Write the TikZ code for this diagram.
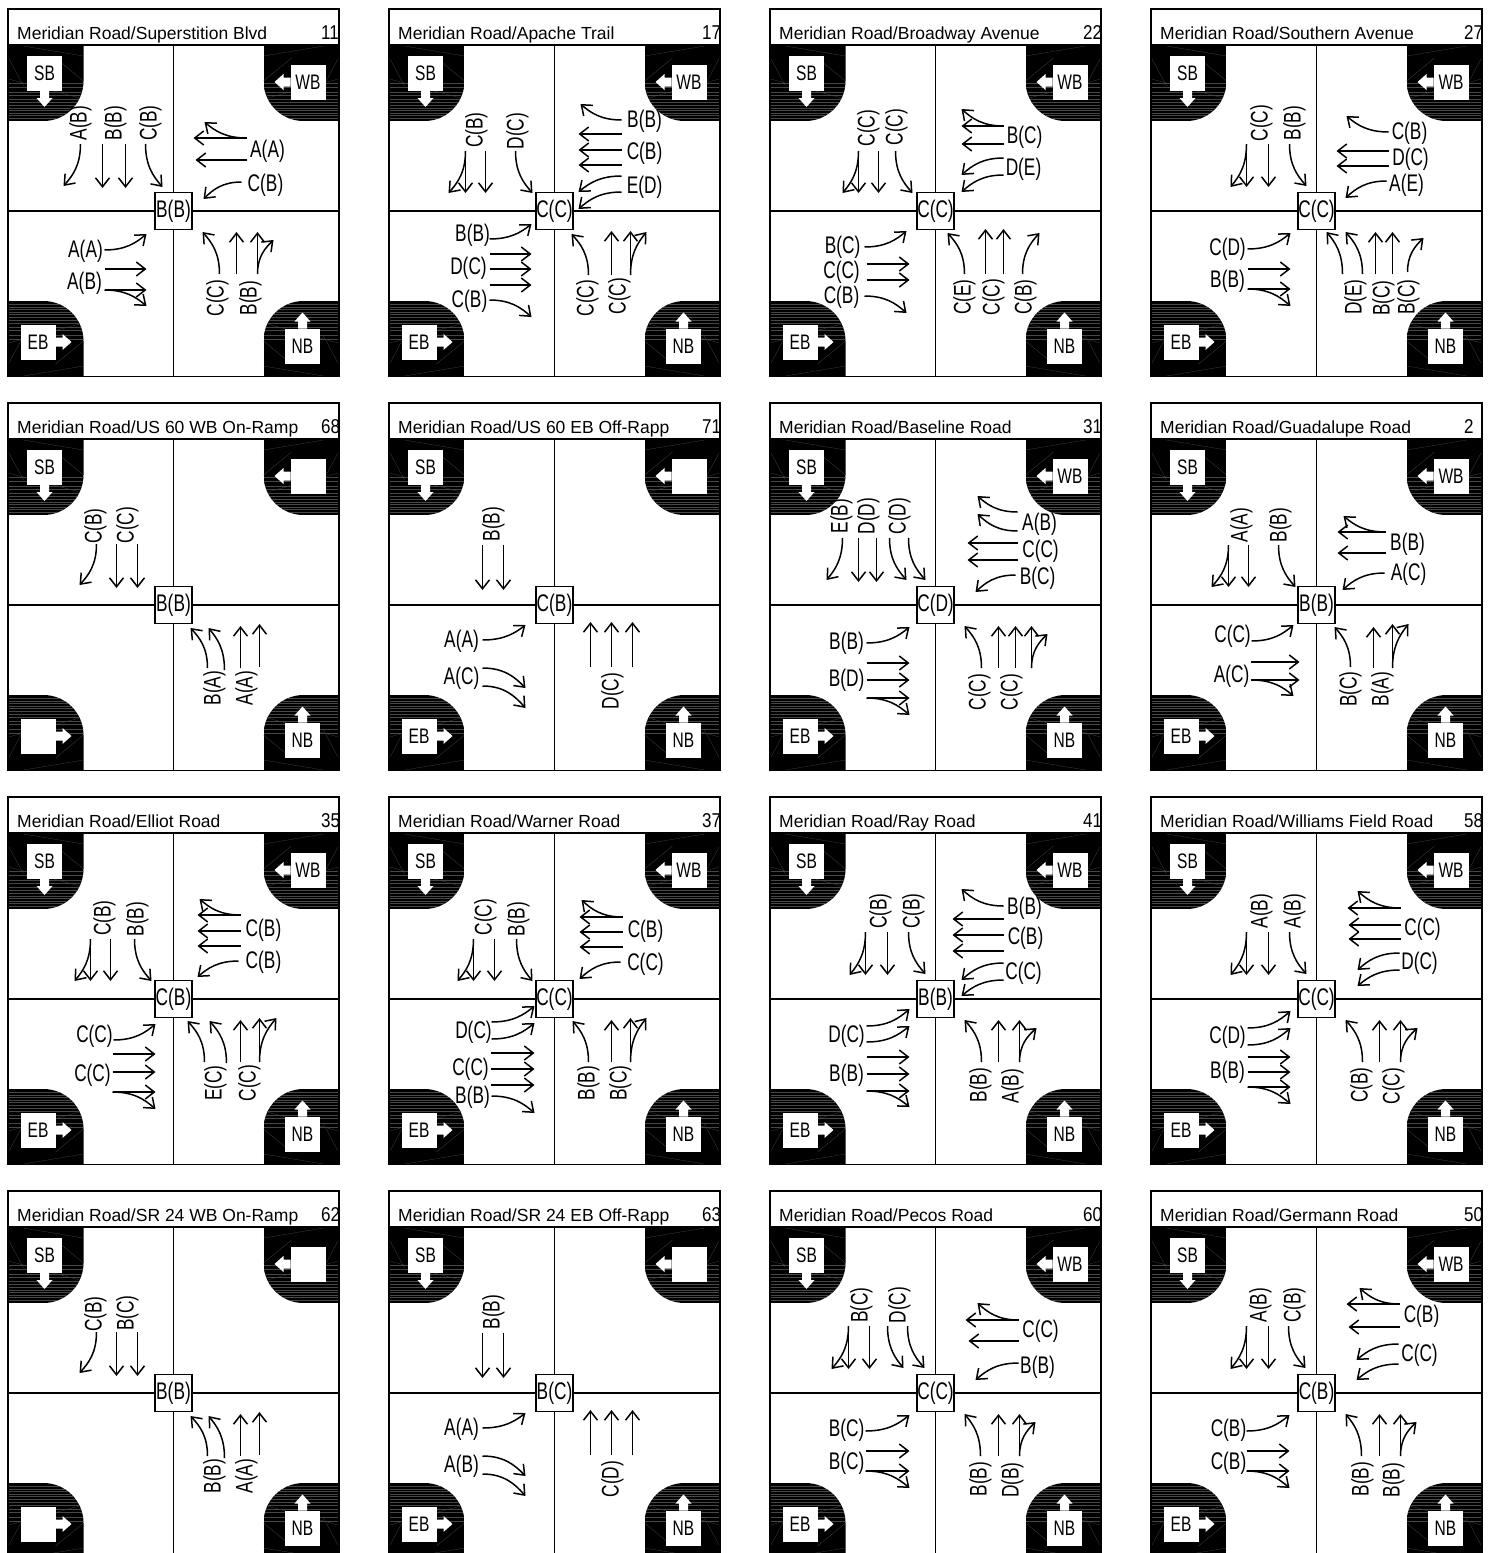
\documentclass[tikz,border=0pt]{standalone}
\usepackage{graphicx}
\usepackage{fontspec}
\setmainfont{Liberation Sans}
\usetikzlibrary{arrows.meta}

\tikzset{
  >={Straight Barb[length=9pt,width=14pt]},
  mv/.style={->,line width=1.5pt},
  frameline/.style={line width=1.4pt},
  roadline/.style={line width=1.2pt},
  lbl/.style={inner sep=0pt,font=\fontsize{24}{24}\selectfont},
  ttl/.style={inner sep=0pt,anchor=base west,font=\fontsize{17.5}{18}\selectfont},
  numlbl/.style={inner sep=0pt,anchor=base west,font=\fontsize{20}{20}\selectfont},
  dirlbl/.style={inner sep=0pt,font=\fontsize{21}{21}\selectfont},
  sig/.style={draw,fill=white,line width=1.4pt,minimum size=37pt,inner sep=0pt},
  grain/.style={black!72!white,line width=.25pt},
}

\newcommand{\narrow}[1]{\scalebox{.72}[1]{#1}}
% movements, in pixels from the centre of the crossing
\newcommand{\mvgo}[4]{\draw[mv] (#1,#2) -- (#3,#4);}
\newcommand{\mvv}[4]{\draw[mv] (#1,#2) .. controls (#1,{#2+.5*((#4)-(#2))}) and ({#1+.45*((#3)-(#1))},{#2+.75*((#4)-(#2))}) .. (#3,#4);}
\newcommand{\mvh}[4]{\draw[mv] (#1,#2) .. controls ({#1+.5*((#3)-(#1))},#2) and ({#1+.75*((#3)-(#1))},{#2+.45*((#4)-(#2))}) .. (#3,#4);}
\newcommand{\labh}[3]{\node[lbl] (mvlab) at (#1,{#2+1.5}) {\narrow{#3}};}
\newcommand{\labv}[3]{\node[lbl,rotate=90] (mvlab) at ({#1+1},#2) {\narrow{#3}};}
% black corner with its grain, mirrored for each side
\newcommand{\corner}[2]{
  \begin{scope}[xscale=#1,yscale=#2]
    \begin{scope}
      \clip (-165.5,-166) -- (-90,-166) [rounded corners=40pt] -- (-90,-90) [sharp corners] -- (-165.5,-90) -- cycle;
      \fill (-166,-166) rectangle (-90,-90);
      \foreach \yy in {-128,-124,-119,-116,-112,-109,-106,-103,-101,-98,-96,-93} {
        \draw[grain] (-166,\yy) -- (-90,\yy);
      }
      \draw[grain] (-165,-153) -- (-150,-125);
      \draw[grain] (-118,-153) -- (-90,-130);
      \draw[grain] (-165,-132) -- (-90,-112);
      \draw[grain] (-150,-165) -- (-90,-155);
    \end{scope}
  \end{scope}
}
\newcommand{\dirbox}[4]{
  \begin{scope}[shift={(#3,#4)},rotate=#1]
    \fill[white] (-146.5,-155) rectangle (-111.5,-120);
    \fill[white] (-133.5,-120) -- (-133.5,-113) -- (-137,-113) -- (-129,-104) -- (-121,-113) -- (-124.5,-113) -- (-124.5,-120) -- cycle;
    \node[dirlbl] (dir#1) at (-129,-137.5) {\scalebox{.74}[1]{#2}};
  \end{scope}
}
% col, row, title, number, signal label, WB text, EB text, movements
\newcommand{\panel}[8]{
  \begin{scope}[shift={({173.5+381*#1},{211+394*#2})}]
    \corner{1}{1}
    \corner{-1}{1}
    \corner{1}{-1}
    \corner{-1}{-1}
    \draw[roadline] (0,-166) -- (0,165.5);
    \draw[roadline] (-165.5,0) -- (165.5,0);
    \draw[frameline] (-165.5,-202) rectangle (165.5,165.5);
    \draw[frameline] (-165.5,-166) -- (165.5,-166);
    \dirbox{0}{SB}{0}{0}
    \dirbox{270}{#6}{-3}{0}
    \dirbox{90}{#7}{2}{2}
    \dirbox{180}{NB}{0}{-2.5}
    \node[ttl] (title) at (-156.5,-172) {#3};
    \node[numlbl] (number) at (147.5,-172) {\scalebox{.85}[1]{#4}};
    \node[sig] (centre) at (0,0) {\narrow{\fontsize{24}{24}\selectfont #5}};
    #8
  \end{scope}
}

\begin{document}
\begin{tikzpicture}[x=1pt,y=-1pt]
  \path[use as bounding box,clip] (0,0) rectangle (1496,1553);
  \fill[white] (0,0) rectangle (1496,1553);

  \panel{0}{0}{Meridian Road/Superstition Blvd}{11}{B(B)}{WB}{EB}{
    \mvv{-93}{-67}{-110}{-25} \mvgo{-71}{-67}{-71}{-23} \mvgo{-48}{-67}{-48}{-23} \mvv{-28}{-67}{-11}{-24}
    \mvgo{73}{-73}{20}{-73} \mvh{73}{-73}{31}{-89} \mvgo{73}{-51}{22}{-51} \mvh{68}{-29}{30}{-12}
    \mvh{-69}{39}{-27}{23} \mvgo{-69}{58}{-27}{58} \mvgo{-69}{79}{-27}{79} \mvh{-69}{79}{-27}{95}
    \mvv{46}{63}{29}{21} \mvgo{63}{63}{63}{21} \mvgo{84}{63}{84}{21} \mvv{84}{63}{100}{29}
    \labv{-94}{-88}{A(B)} \labv{-59}{-88}{B(B)} \labv{-24}{-88}{C(B)}
    \labh{94}{-61}{A(A)} \labh{92}{-27}{C(B)}
    \labh{-88}{39}{A(A)} \labh{-89}{71}{A(B)}
    \labv{43}{87}{C(C)} \labv{76}{87}{B(B)}
  }
  \panel{1}{0}{Meridian Road/Apache Trail}{17}{C(C)}{WB}{EB}{
    \mvgo{-89}{-60}{-89}{-18} \mvv{-89}{-60}{-106}{-18} \mvgo{-69}{-60}{-69}{-18} \mvv{-39}{-60}{-22}{-18}
    \mvh{67}{-91}{26}{-107} \mvgo{67}{-77}{24}{-77} \mvgo{67}{-61}{24}{-61} \mvgo{67}{-46}{24}{-46}
    \mvh{67}{-35}{24}{-19} \mvh{67}{-19}{24}{-2}
    \mvh{-65}{28}{-23}{13} \mvgo{-65}{43}{-23}{43} \mvgo{-65}{58}{-23}{58} \mvgo{-65}{74}{-23}{74} \mvh{-65}{89}{-23}{106}
    \mvv{34}{64}{17}{23} \mvgo{57}{64}{57}{20} \mvgo{76}{64}{76}{20} \mvv{76}{64}{92}{21}
    \labv{-79}{-81}{C(B)} \labv{-38}{-80}{D(C)}
    \labh{90}{-91}{B(B)} \labh{90}{-59}{C(B)} \labh{90}{-25}{E(D)}
    \labh{-82}{23}{B(B)} \labh{-86}{56}{D(C)} \labh{-85}{89}{C(B)}
    \labv{32}{87}{C(C)} \labv{64}{85}{C(C)}
  }
  \panel{2}{0}{Meridian Road/Broadway Avenue}{22}{C(C)}{WB}{EB}{
    \mvgo{-77}{-60}{-77}{-18} \mvv{-77}{-60}{-93}{-18} \mvgo{-57}{-60}{-57}{-18} \mvv{-40}{-60}{-23}{-18}
    \mvgo{68}{-85}{26}{-85} \mvh{68}{-85}{26}{-102} \mvgo{68}{-67}{26}{-67} \mvh{68}{-53}{26}{-36} \mvh{68}{-36}{26}{-19}
    \mvh{-71}{36}{-29}{20} \mvgo{-69}{53}{-26}{53} \mvgo{-69}{69}{-26}{69} \mvh{-71}{85}{-29}{102}
    \mvv{29}{63}{12}{22} \mvgo{50}{63}{50}{18} \mvgo{68}{63}{68}{18} \mvv{87}{63}{104}{22}
    \labv{-68}{-83}{C(C)} \labv{-40}{-84}{C(C)}
    \labh{89}{-75}{B(C)} \labh{88}{-43}{D(E)}
    \labh{-93}{35}{B(C)} \labh{-94}{60}{C(C)} \labh{-94}{85}{C(B)}
    \labv{28}{86}{C(E)} \labv{57}{86}{C(C)} \labv{89}{86}{C(B)}
  }
  \panel{3}{0}{Meridian Road/Southern Avenue}{27}{C(C)}{WB}{EB}{
    \mvgo{-70}{-67}{-70}{-24} \mvv{-70}{-67}{-86}{-24} \mvgo{-48}{-67}{-48}{-24} \mvv{-27}{-67}{-10}{-25}
    \mvh{72}{-79}{30}{-95} \mvgo{72}{-60}{20}{-60} \mvgo{72}{-45}{20}{-45} \mvh{70}{-30}{29}{-13}
    \mvh{-69}{38}{-26}{22} \mvgo{-69}{58}{-26}{58} \mvgo{-69}{78}{-26}{78} \mvh{-69}{78}{-26}{95}
    \mvv{26}{63}{10}{21} \mvv{46}{63}{29}{21} \mvgo{59}{63}{59}{21} \mvgo{76}{63}{76}{21} \mvv{91}{61}{107}{27}
    \labv{-56}{-88}{C(C)} \labv{-23}{-88}{B(B)}
    \labh{93}{-79}{C(B)} \labh{94}{-53}{D(C)} \labh{90}{-27}{A(E)}
    \labh{-89}{37}{C(D)} \labh{-89}{69}{B(B)}
    \labv{38}{86}{D(E)} \labv{66}{87}{B(C)} \labv{91}{86}{B(C)}
  }

  \panel{0}{1}{Meridian Road/US 60 WB On-Ramp}{68}{B(B)}{}{}{
    \mvv{-77}{-61}{-94}{-20} \mvgo{-57}{-61}{-57}{-17} \mvgo{-36}{-61}{-36}{-17}
    \mvv{34}{63}{17}{23} \mvv{51}{65}{35}{23} \mvgo{67}{63}{67}{21} \mvgo{86}{62}{86}{19}
    \labv{-79}{-79}{C(B)} \labv{-47}{-80}{C(C)}
    \labv{40}{83}{B(A)} \labv{72}{83}{A(A)}
  }
  \panel{1}{1}{Meridian Road/US 60 EB Off-Rapp}{71}{C(B)}{}{EB}{
    \mvgo{-72}{-60}{-72}{-15} \mvgo{-51}{-60}{-51}{-15}
    \mvh{-72}{35}{-29}{20} \mvh{-72}{63}{-29}{83} \mvh{-72}{81}{-29}{103}
    \mvgo{36}{62}{36}{17} \mvgo{57}{62}{57}{17} \mvgo{78}{62}{78}{17}
    \labv{-62}{-81}{B(B)}
    \labh{-93}{35}{A(A)} \labh{-93}{72}{A(C)}
    \labv{57}{86}{D(C)}
  }
  \panel{2}{1}{Meridian Road/Baseline Road}{31}{C(D)}{WB}{EB}{
    \mvv{-93}{-67}{-109}{-25} \mvgo{-77}{-67}{-77}{-23} \mvgo{-59}{-67}{-59}{-23} \mvv{-46}{-67}{-29}{-25} \mvv{-27}{-67}{-10}{-25}
    \mvh{82}{-93}{42}{-109} \mvh{82}{-74}{42}{-91} \mvgo{82}{-62}{32}{-62} \mvgo{82}{-45}{32}{-45} \mvh{80}{-30}{40}{-13}
    \mvh{-69}{38}{-26}{22} \mvgo{-69}{58}{-26}{58} \mvgo{-69}{75}{-26}{75} \mvgo{-69}{93}{-26}{93} \mvh{-69}{93}{-26}{110}
    \mvv{46}{63}{29}{21} \mvgo{63}{63}{63}{21} \mvgo{80}{63}{80}{21} \mvgo{96}{63}{96}{21} \mvv{96}{63}{112}{29}
    \labv{-95}{-89}{E(B)} \labv{-68}{-89}{D(D)} \labv{-37}{-89}{C(D)}
    \labh{104}{-82}{A(B)} \labh{105}{-55}{C(C)} \labh{102}{-28}{B(C)}
    \labh{-89}{37}{B(B)} \labh{-89}{74}{B(D)}
    \labv{43}{87}{C(C)} \labv{75}{87}{C(C)}
  }
  \panel{3}{1}{Meridian Road/Guadalupe Road}{2}{B(B)}{WB}{EB}{
    \mvgo{-88}{-60}{-88}{-18} \mvv{-88}{-60}{-105}{-18} \mvgo{-68}{-60}{-68}{-18} \mvv{-38}{-60}{-21}{-18}
    \mvgo{69}{-73}{21}{-73} \mvh{69}{-73}{27}{-89} \mvgo{69}{-52}{21}{-52} \mvh{68}{-32}{26}{-15}
    \mvh{-65}{36}{-23}{20} \mvgo{-66}{57}{-17}{57} \mvgo{-66}{75}{-17}{75} \mvh{-65}{75}{-23}{91}
    \mvv{34}{62}{18}{22} \mvgo{57}{63}{57}{22} \mvgo{76}{63}{76}{19} \mvv{76}{63}{92}{19}
    \labv{-76}{-80}{A(A)} \labv{-37}{-80}{B(B)}
    \labh{91}{-62}{B(B)} \labh{92}{-32}{A(C)}
    \labh{-84}{30}{C(C)} \labh{-85}{70}{A(C)}
    \labv{33}{84}{B(C)} \labv{65}{84}{B(A)}
  }

  \panel{0}{2}{Meridian Road/Elliot Road}{35}{C(B)}{WB}{EB}{
    \mvgo{-83}{-60}{-83}{-18} \mvv{-83}{-60}{-99}{-18} \mvgo{-63}{-60}{-63}{-18} \mvv{-39}{-60}{-22}{-18}
    \mvgo{67}{-84}{24}{-84} \mvh{67}{-84}{26}{-100} \mvgo{67}{-68}{24}{-68} \mvgo{67}{-53}{24}{-53} \mvh{65}{-38}{24}{-22}
    \mvh{-60}{41}{-18}{25} \mvgo{-61}{55}{-18}{55} \mvgo{-61}{73}{-18}{73} \mvgo{-61}{93}{-18}{93} \mvh{-61}{93}{-18}{110}
    \mvv{31}{63}{14}{22} \mvv{53}{64}{36}{22} \mvgo{67}{63}{67}{21} \mvgo{86}{63}{86}{19} \mvv{86}{63}{103}{19}
    \labv{-70}{-81}{C(B)} \labv{-37}{-80}{B(B)}
    \labh{90}{-70}{C(B)} \labh{90}{-38}{C(B)}
    \labh{-79}{36}{C(C)} \labh{-81}{75}{C(C)}
    \labv{41}{84}{E(C)} \labv{75}{84}{C(C)}
  }
  \panel{1}{2}{Meridian Road/Warner Road}{37}{C(C)}{WB}{EB}{
    \mvgo{-81}{-60}{-81}{-18} \mvv{-81}{-60}{-97}{-18} \mvgo{-60}{-60}{-60}{-18} \mvv{-38}{-60}{-22}{-18}
    \mvgo{68}{-82}{25}{-82} \mvh{68}{-82}{27}{-99} \mvgo{68}{-67}{25}{-67} \mvgo{68}{-52}{25}{-52} \mvh{66}{-37}{25}{-20}
    \mvh{-63}{23}{-20}{7} \mvh{-63}{40}{-20}{24} \mvgo{-64}{54}{-20}{54} \mvgo{-64}{70}{-20}{70} \mvgo{-64}{86}{-20}{86} \mvh{-63}{97}{-20}{114}
    \mvv{34}{63}{18}{22} \mvgo{57}{63}{57}{21} \mvgo{76}{63}{76}{19} \mvv{76}{63}{92}{19}
    \labv{-70}{-82}{C(C)} \labv{-37}{-80}{B(B)}
    \labh{91}{-69}{C(B)} \labh{91}{-36}{C(C)}
    \labh{-81}{32}{D(C)} \labh{-84}{69}{C(C)} \labh{-82}{97}{B(B)}
    \labv{33}{84}{B(B)} \labv{65}{84}{B(C)}
  }
  \panel{2}{2}{Meridian Road/Ray Road}{41}{B(B)}{WB}{EB}{
    \mvgo{-70}{-67}{-70}{-24} \mvv{-70}{-67}{-86}{-24} \mvgo{-48}{-67}{-48}{-24} \mvv{-27}{-67}{-10}{-25}
    \mvh{68}{-93}{26}{-110} \mvgo{68}{-80}{17}{-80} \mvgo{68}{-64}{17}{-64} \mvgo{68}{-48}{17}{-48} \mvh{68}{-36}{26}{-19} \mvh{68}{-19}{26}{-3}
    \mvh{-69}{27}{-26}{10} \mvh{-69}{43}{-26}{27} \mvgo{-69}{58}{-26}{58} \mvgo{-69}{75}{-26}{75} \mvgo{-69}{92}{-26}{92} \mvh{-69}{92}{-26}{108}
    \mvv{46}{63}{29}{21} \mvgo{63}{63}{63}{21} \mvgo{84}{63}{84}{21} \mvv{84}{63}{101}{29}
    \labv{-56}{-88}{C(B)} \labv{-23}{-88}{C(B)}
    \labh{89}{-92}{B(B)} \labh{90}{-62}{C(B)} \labh{88}{-27}{C(C)}
    \labh{-89}{36}{D(C)} \labh{-89}{75}{B(B)}
    \labv{44}{86}{B(B)} \labv{76}{87}{A(B)}
  }
  \panel{3}{2}{Meridian Road/Williams Field Road}{58}{C(C)}{WB}{EB}{
    \mvgo{-70}{-67}{-70}{-24} \mvv{-70}{-67}{-86}{-24} \mvgo{-48}{-67}{-48}{-24} \mvv{-27}{-67}{-10}{-25}
    \mvgo{84}{-91}{31}{-91} \mvh{84}{-91}{41}{-108} \mvgo{84}{-74}{32}{-74} \mvgo{84}{-60}{32}{-60} \mvh{83}{-46}{41}{-29} \mvh{83}{-29}{41}{-13}
    \mvh{-69}{29}{-26}{12} \mvh{-69}{46}{-26}{29} \mvgo{-69}{58}{-26}{58} \mvgo{-69}{73}{-26}{73} \mvgo{-69}{88}{-26}{88} \mvh{-69}{88}{-26}{105}
    \mvv{46}{63}{29}{21} \mvgo{63}{63}{63}{21} \mvgo{84}{63}{84}{21} \mvv{84}{63}{101}{29}
    \labv{-56}{-88}{A(B)} \labv{-23}{-88}{A(B)}
    \labh{106}{-71}{C(C)} \labh{103}{-37}{D(C)}
    \labh{-89}{37}{C(D)} \labh{-89}{72}{B(B)}
    \labv{44}{86}{C(B)} \labv{76}{87}{C(C)}
  }

  \panel{0}{3}{Meridian Road/SR 24 WB On-Ramp}{62}{B(B)}{}{}{
    \mvv{-77}{-61}{-94}{-20} \mvgo{-57}{-61}{-57}{-17} \mvgo{-36}{-61}{-36}{-17}
    \mvv{34}{63}{17}{23} \mvv{51}{65}{35}{23} \mvgo{67}{63}{67}{21} \mvgo{86}{62}{86}{19}
    \labv{-79}{-79}{C(B)} \labv{-47}{-80}{B(C)}
    \labv{40}{83}{B(B)} \labv{72}{83}{A(A)}
  }
  \panel{1}{3}{Meridian Road/SR 24 EB Off-Rapp}{63}{B(C)}{}{EB}{
    \mvgo{-72}{-60}{-72}{-15} \mvgo{-51}{-60}{-51}{-15}
    \mvh{-72}{35}{-29}{20} \mvh{-72}{63}{-29}{83} \mvh{-72}{81}{-29}{103}
    \mvgo{36}{62}{36}{17} \mvgo{57}{62}{57}{17} \mvgo{78}{62}{78}{17}
    \labv{-62}{-81}{B(B)}
    \labh{-93}{35}{A(A)} \labh{-93}{72}{A(B)}
    \labv{57}{86}{C(D)}
  }
  \panel{2}{3}{Meridian Road/Pecos Road}{60}{C(C)}{WB}{EB}{
    \mvgo{-87}{-67}{-87}{-24} \mvv{-87}{-67}{-104}{-24} \mvgo{-66}{-67}{-66}{-24} \mvv{-48}{-67}{-32}{-25} \mvv{-28}{-67}{-11}{-25}
    \mvgo{83}{-73}{30}{-73} \mvh{83}{-73}{42}{-90} \mvgo{83}{-52}{33}{-52} \mvh{83}{-30}{40}{-13}
    \mvh{-70}{38}{-26}{22} \mvgo{-70}{58}{-26}{58} \mvgo{-70}{78}{-26}{78} \mvh{-70}{78}{-26}{95}
    \mvv{45}{63}{29}{21} \mvgo{63}{63}{63}{21} \mvgo{84}{63}{84}{21} \mvv{84}{63}{100}{29}
    \labv{-75}{-88}{B(C)} \labv{-37}{-88}{D(C)}
    \labh{105}{-63}{C(C)} \labh{102}{-27}{B(B)}
    \labh{-89}{36}{B(C)} \labh{-89}{69}{B(C)}
    \labv{44}{86}{B(B)} \labv{76}{87}{D(B)}
  }
  \panel{3}{3}{Meridian Road/Germann Road}{50}{C(B)}{WB}{EB}{
    \mvgo{-70}{-67}{-70}{-24} \mvv{-70}{-67}{-86}{-24} \mvgo{-48}{-67}{-48}{-24} \mvv{-28}{-67}{-11}{-25}
    \mvgo{83}{-89}{30}{-89} \mvh{83}{-89}{43}{-105} \mvgo{83}{-66}{32}{-66} \mvh{82}{-49}{40}{-33} \mvh{82}{-29}{40}{-13}
    \mvh{-70}{38}{-27}{22} \mvgo{-70}{58}{-27}{58} \mvgo{-70}{78}{-27}{78} \mvh{-70}{78}{-27}{95}
    \mvv{45}{63}{29}{21} \mvgo{63}{63}{63}{21} \mvgo{84}{63}{84}{21} \mvv{84}{63}{100}{29}
    \labv{-57}{-88}{A(B)} \labv{-23}{-88}{C(B)}
    \labh{105}{-78}{C(B)} \labh{103}{-39}{C(C)}
    \labh{-88}{36}{C(B)} \labh{-88}{69}{C(B)}
    \labv{45}{86}{B(B)} \labv{76}{87}{B(B)}
  }
\end{tikzpicture}
\end{document}
